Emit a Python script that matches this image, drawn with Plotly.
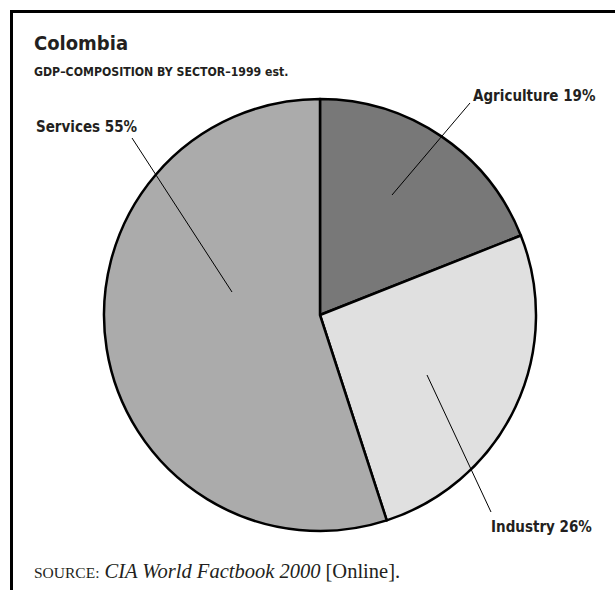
import plotly.graph_objects as go

# GDP composition by sector, 1999 estimate (percent)
sectors = ["Agriculture", "Industry", "Services"]
shares = [19, 26, 55]
slice_colors = ["#787878", "#e0e0e0", "#ababab"]

title_text = "Colombia"
subtitle_text = "GDP\u2013COMPOSITION BY SECTOR\u20131999 est."

W, H = 615, 590
CX, CY, R = 320, 315, 216  # pie centre and radius in pixels


def px(x):
    return x / W


def py(y):
    return 1 - y / H


COND = "Liberation Sans Narrow, Arial Narrow, DejaVu Sans Condensed, sans-serif"
SERIF = "Liberation Serif, Times New Roman, serif"
INK = "#231f20"

fig = go.Figure(
    go.Pie(
        labels=sectors,
        values=shares,
        sort=False,
        direction="clockwise",
        rotation=0,
        textinfo="none",
        hoverinfo="label+percent",
        marker=dict(colors=slice_colors, line=dict(color="#000000", width=2.5)),
        domain=dict(x=[px(CX - R), px(CX + R)], y=[py(CY + R), py(CY - R)]),
        showlegend=False,
    )
)

# label positions and leader lines (pixels)
label_pos = {
    "Agriculture": dict(x=471, y=96, xanchor="left", line=((470, 103), (392, 195))),
    "Industry": dict(x=489, y=527, xanchor="left", line=((491, 512), (427, 375))),
    "Services": dict(x=34, y=127, xanchor="left", line=((132, 138), (232, 292))),
}

annotations = []
shapes = []
for name, val in zip(sectors, shares):
    p = label_pos[name]
    annotations.append(dict(
        x=px(p["x"]), y=py(p["y"]), xref="paper", yref="paper",
        xanchor=p["xanchor"], yanchor="middle", showarrow=False,
        text=f"<b>{name} {val}%</b>",
        font=dict(family=COND, size=15, color=INK),
    ))
    (x0, y0), (x1, y1) = p["line"]
    shapes.append(dict(type="line", xref="paper", yref="paper",
                       x0=px(x0), y0=py(y0), x1=px(x1), y1=py(y1),
                       line=dict(color="#000000", width=1)))

annotations += [
    dict(x=px(32), y=py(43), xref="paper", yref="paper", xanchor="left",
         yanchor="middle", showarrow=False, text=f"<b>{title_text}</b>",
         font=dict(family=COND, size=20, color=INK)),
    dict(x=px(32), y=py(72), xref="paper", yref="paper", xanchor="left",
         yanchor="middle", showarrow=False, text=f"<b>{subtitle_text}</b>",
         font=dict(family=COND, size=12.2, color=INK)),
    dict(x=px(32), y=py(571), xref="paper", yref="paper", xanchor="left",
         yanchor="middle", showarrow=False,
         text="<span style='font-size:15.5px'>SOURCE:</span> <i>CIA World Factbook 2000</i> [Online].",
         font=dict(family=SERIF, size=20.5, color=INK)),
]

# frame along the top and left edges
shapes += [
    dict(type="line", xref="paper", yref="paper", x0=px(10), y0=py(11.5),
         x1=1.0, y1=py(11.5), line=dict(color="#000000", width=3)),
    dict(type="line", xref="paper", yref="paper", x0=px(11.5), y0=py(10),
         x1=px(11.5), y1=0.0, line=dict(color="#000000", width=3)),
]

fig.update_layout(
    width=W, height=H,
    margin=dict(l=0, r=0, t=0, b=0),
    paper_bgcolor="#ffffff", plot_bgcolor="#ffffff",
    annotations=annotations, shapes=shapes,
)

fig.write_html("out.html")
